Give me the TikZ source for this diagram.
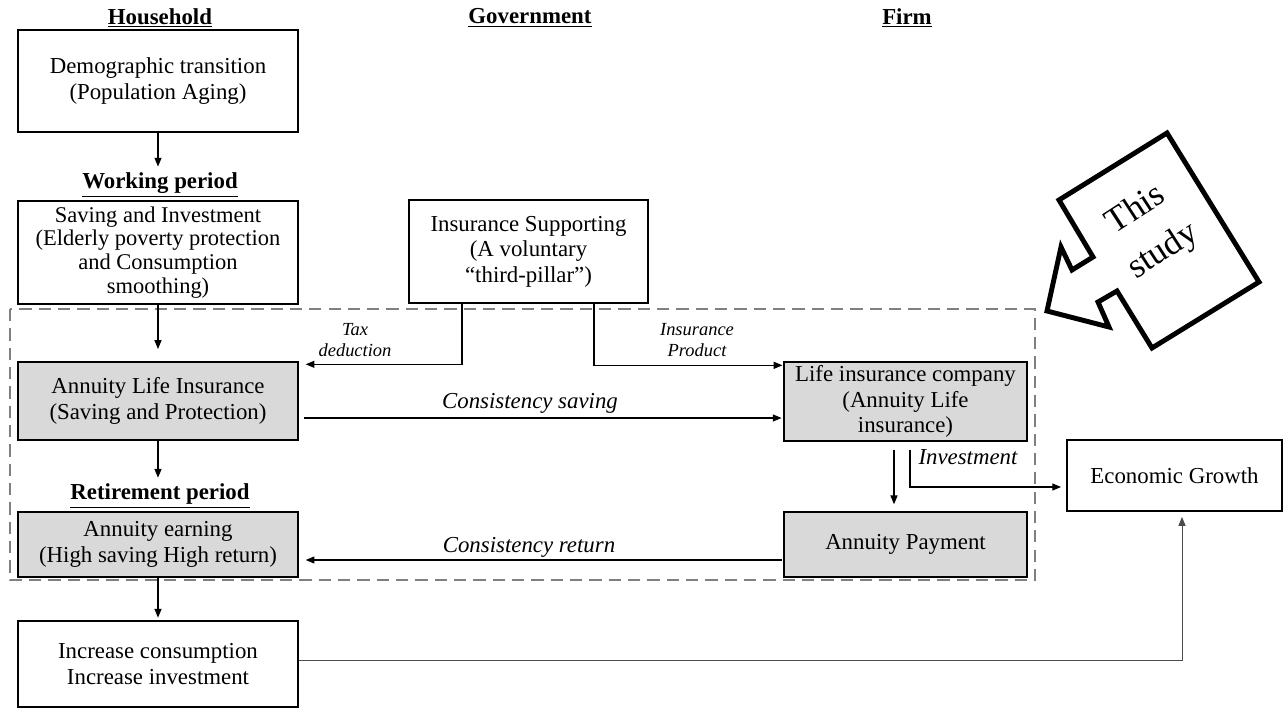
\documentclass[tikz,border=0pt]{standalone}
\usepackage{fontspec}
\setmainfont{Liberation Serif}
\usetikzlibrary{arrows.meta}

\begin{document}
\begin{tikzpicture}[x=0.02cm, y=-0.02cm,
  box/.style={draw, rectangle, line width=0.8pt, align=center, inner sep=2pt, font=\fontsize{13}{14.5}\selectfont},
  shaded/.style={box, fill=black!15},
  head/.style={font=\fontsize{13}{15}\selectfont\bfseries},
  lbl/.style={font=\fontsize{13}{15}\selectfont\itshape},
  small/.style={font=\fontsize{10.5}{12}\selectfont\itshape, align=center},
  arr/.style={-{Triangle[length=5pt,width=4pt]}, line width=0.6pt}]
\useasboundingbox (0,0) rectangle (1284,709);

\node[head] (hh) at (160,18) {\underline{Household}};
\node[head] (gv) at (530,18) {\underline{Government}};
\node[head] (fm) at (907,18) {\underline{Firm}};

\node[box, minimum width=5.6cm, minimum height=2.04cm] (demo) at (158,81) {Demographic transition\\(Population Aging)};
\node[box, minimum width=5.6cm, minimum height=2.06cm, inner sep=0pt, font=\fontsize{12.8}{13.6}\selectfont] (work) at (158,252.5) {Saving and Investment\\(Elderly poverty protection\\and Consumption\\smoothing)};
\node[box, minimum width=4.78cm, minimum height=2.06cm] (gov) at (528.5,251.5) {Insurance Supporting\\(A voluntary\\“third-pillar”)};

\draw[gray, line width=1.2pt, dash pattern=on 7pt off 4pt] (10,309) rectangle (1035,580);

\node[shaded, minimum width=5.6cm, minimum height=1.56cm] (annu) at (158,401) {Annuity Life Insurance\\(Saving and Protection)};
\node[shaded, minimum width=4.86cm, minimum height=1.54cm] (lic) at (905.5,401.5) {Life insurance company\\(Annuity Life\\insurance)};
\node[shaded, minimum width=5.6cm, minimum height=1.3cm] (earn) at (158,544.5) {Annuity earning\\(High saving High return)};
\node[shaded, minimum width=4.86cm, minimum height=1.3cm] (pay) at (905.5,544.5) {Annuity Payment};
\node[box, minimum width=5.6cm, minimum height=1.72cm] (incr) at (158,664) {Increase consumption\\Increase investment};
\node[box, minimum width=4.3cm, minimum height=1.42cm] (econ) at (1174.5,475.5) {Economic Growth};

\node[head] (wp) at (160,185) {\underline{Working period}};
\node[head] (rp) at (160,496) {\underline{Retirement period}};
\node[small] (tax) at (355,340) {Tax\\deduction};
\node[small] (ins) at (697,340) {Insurance\\Product};
\node[lbl] (cs) at (530,403) {Consistency saving};
\node[lbl] (cr) at (529,547) {Consistency return};
\node[lbl] (inv) at (968,457) {Investment};

\draw[arr] (demo.south) -- (demo.south |- wp.north);
\draw[arr, shorten >=7pt] (work.south) -- (annu.north);
\draw[arr] (annu.south) -- (annu.south |- rp.north);
\draw[arr, shorten >=1.5pt] (earn) -- (incr);
\draw[arr, shorten >=4pt] ([xshift=-1.33cm]gov.south) |- ([yshift=-0.06cm]annu.north east);
\draw[arr, shorten >=0.5pt] ([xshift=1.31cm]gov.south) |- ([yshift=-0.08cm]lic.north west);
\draw[arr, shorten <=3pt, shorten >=1pt] ([yshift=-0.34cm]annu.east) -- ([yshift=-0.34cm]annu.east -| lic.west);
\draw[arr, shorten <=1pt, shorten >=4pt] ([yshift=-0.31cm]pay.west) -- ([yshift=-0.31cm]pay.west -| earn.east);
\draw[arr, shorten <=4.5pt, shorten >=4pt] ([xshift=-0.23cm]lic.south) -- ([xshift=-0.23cm]pay.north);
\draw[arr, shorten <=4.5pt, shorten >=3pt] ([xshift=0.09cm]lic.south) |- ([yshift=-0.23cm]econ.west);
\draw[arr, line width=0.5pt, black!70, shorten >=3pt] ([yshift=0.08cm]incr.east) -| ([xshift=0.15cm]econ.south);

\draw[line width=2.8pt, fill=white] (1167,133) -- (1259,282) -- (1152,348) -- (1117,291) -- (1098,302) -- (1109,327) -- (1047,311) -- (1061,247) -- (1072,270) -- (1093,257) -- (1059,200) -- cycle;
\node[rotate=33, align=center, font=\fontsize{20}{28}\selectfont] (study) at (1150,231) {This\\study};
\end{tikzpicture}
\end{document}
